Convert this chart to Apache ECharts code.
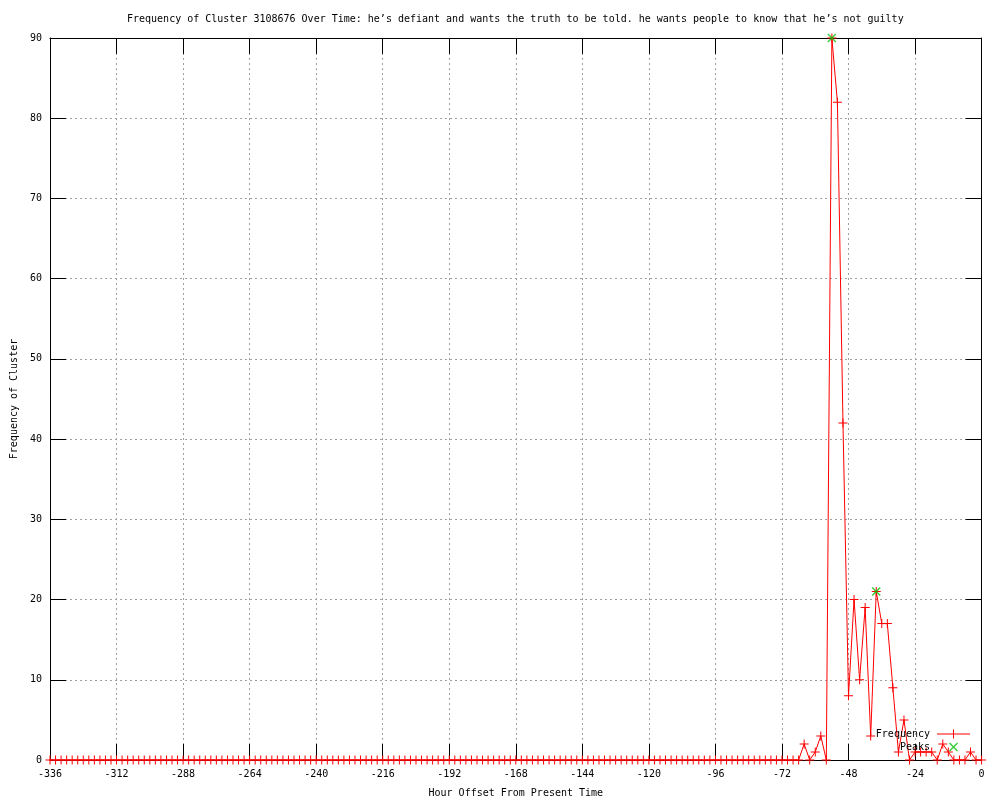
<!DOCTYPE html>
<html>
<head>
<meta charset="utf-8">
<script src="https://cdn.jsdelivr.net/npm/echarts@6/dist/echarts.min.js"></script>
<style>html,body{margin:0;padding:0;background:#fff}#c{width:1000px;height:800px}</style>
</head>
<body>
<div id="c"></div>
<script>
const chartTitle = "Frequency of Cluster 3108676 Over Time: he\u2019s defiant and wants the truth to be told. he wants people to know that he\u2019s not guilty";
const xAxisName = "Hour Offset From Present Time";
const yAxisName = "Frequency of Cluster";

const hours = [
  -336,-334,-332,-330,-328,-326,-324,-322,-320,-318,-316,-314,
  -312,-310,-308,-306,-304,-302,-300,-298,-296,-294,-292,-290,
  -288,-286,-284,-282,-280,-278,-276,-274,-272,-270,-268,-266,
  -264,-262,-260,-258,-256,-254,-252,-250,-248,-246,-244,-242,
  -240,-238,-236,-234,-232,-230,-228,-226,-224,-222,-220,-218,
  -216,-214,-212,-210,-208,-206,-204,-202,-200,-198,-196,-194,
  -192,-190,-188,-186,-184,-182,-180,-178,-176,-174,-172,-170,
  -168,-166,-164,-162,-160,-158,-156,-154,-152,-150,-148,-146,
  -144,-142,-140,-138,-136,-134,-132,-130,-128,-126,-124,-122,
  -120,-118,-116,-114,-112,-110,-108,-106,-104,-102,-100,-98,
  -96,-94,-92,-90,-88,-86,-84,-82,-80,-78,-76,-74,
  -72,-70,-68,-66,-64,-62,-60,-58,-56,-54,-52,-50,
  -48,-46,-44,-42,-40,-38,-36,-34,-32,-30,-28,-26,
  -24,-22,-20,-18,-16,-14,-12,-10,-8,-6,-4,-2,
  0
];

const frequency = [
  0,0,0,0,0,0,0,0,0,0,0,0,
  0,0,0,0,0,0,0,0,0,0,0,0,
  0,0,0,0,0,0,0,0,0,0,0,0,
  0,0,0,0,0,0,0,0,0,0,0,0,
  0,0,0,0,0,0,0,0,0,0,0,0,
  0,0,0,0,0,0,0,0,0,0,0,0,
  0,0,0,0,0,0,0,0,0,0,0,0,
  0,0,0,0,0,0,0,0,0,0,0,0,
  0,0,0,0,0,0,0,0,0,0,0,0,
  0,0,0,0,0,0,0,0,0,0,0,0,
  0,0,0,0,0,0,0,0,0,0,0,0,
  0,0,0,0,2,0,1,3,0,90,82,42,
  8,20,10,19,3,21,17,17,9,1,5,0,
  1,1,1,1,0,2,1,0,0,0,1,0,
  0
];

const peakHours = [-54, -38];
const peakValues = [90, 21];

const xTicks = { min: -336, max: 0, interval: 24 };
const yTicks = { min: 0, max: 90, interval: 10 };

const FONT = "DejaVu Sans Mono";
const plusPath = 'path://M0,4h9v1H0z M4,0h1v9H4z';
const crossPath = 'path://M0,1L1,0L9,8L8,9Z M8,0L9,1L1,9L0,8Z';
const legendLinePath = 'path://M0,4h33v1H0z M16,0h1v9h-1z';

const freqData = hours.map((h, i) => [h, frequency[i]]);
const peakData = peakHours.map((h, i) => [h, peakValues[i]]);

const gridLine = { show: true, lineStyle: { color: '#a0a0a0', type: [2, 3], width: 1 } };
const tick = { show: true, inside: true, length: 16, lineStyle: { color: '#000' } };
const axisLine = { show: true, onZero: false, lineStyle: { color: '#000', width: 1 } };

const chart = echarts.init(document.getElementById('c'), null, { renderer: 'canvas' });
chart.setOption({
  backgroundColor: '#fff',
  animation: false,
  textStyle: { fontFamily: FONT },
  title: {
    text: chartTitle,
    left: 122, top: 9,
    textStyle: { fontFamily: FONT, fontSize: 10, fontWeight: 'normal', color: '#000' }
  },
  grid: { left: 50, right: 18.4, top: 38, bottom: 40, containLabel: false, outerBoundsMode: 'none' },
  legend: {
    right: 25, top: 724,
    orient: 'vertical',
    align: 'right',
    itemWidth: 33, itemHeight: 9, itemGap: 3,
    textStyle: { fontFamily: FONT, fontSize: 10, color: '#000', padding: [0, 2, 0, 0] },
    data: [
      { name: 'Frequency', icon: legendLinePath },
      { name: 'Peaks', icon: crossPath }
    ]
  },
  xAxis: [
    {
      type: 'value', position: 'bottom', ...xTicks,
      name: xAxisName, nameLocation: 'middle', nameGap: 28,
      nameTextStyle: { fontFamily: FONT, fontSize: 10, color: '#000' },
      axisLine, axisTick: tick,
      axisLabel: { fontFamily: FONT, fontSize: 10, color: '#000', margin: 9 },
      splitLine: gridLine
    },
    {
      type: 'value', position: 'top', ...xTicks,
      axisLine, axisTick: tick, axisLabel: { show: false }, splitLine: { show: false }
    }
  ],
  yAxis: [
    {
      type: 'value', position: 'left', ...yTicks,
      name: yAxisName, nameLocation: 'middle', nameGap: 31, nameRotate: 90,
      nameTextStyle: { fontFamily: FONT, fontSize: 10, color: '#000' },
      axisLine, axisTick: tick,
      axisLabel: { fontFamily: FONT, fontSize: 10, color: '#000', margin: 8 },
      splitLine: gridLine
    },
    {
      type: 'value', position: 'right', ...yTicks,
      axisLine, axisTick: tick, axisLabel: { show: false }, splitLine: { show: false }
    }
  ],
  series: [
    {
      name: 'Frequency', type: 'line', data: freqData,
      xAxisIndex: 0, yAxisIndex: 0,
      symbol: plusPath, symbolSize: 9, showSymbol: true, showAllSymbol: true,
      clip: false,
      lineStyle: { color: '#ff0000', width: 1 },
      itemStyle: { color: '#ff0000' },
      z: 3
    },
    {
      name: 'Peaks', type: 'scatter', data: peakData,
      xAxisIndex: 0, yAxisIndex: 0,
      symbol: crossPath, symbolSize: 9,
      clip: false,
      itemStyle: { color: '#00c000' },
      z: 4
    }
  ]
});
</script>
</body>
</html>
